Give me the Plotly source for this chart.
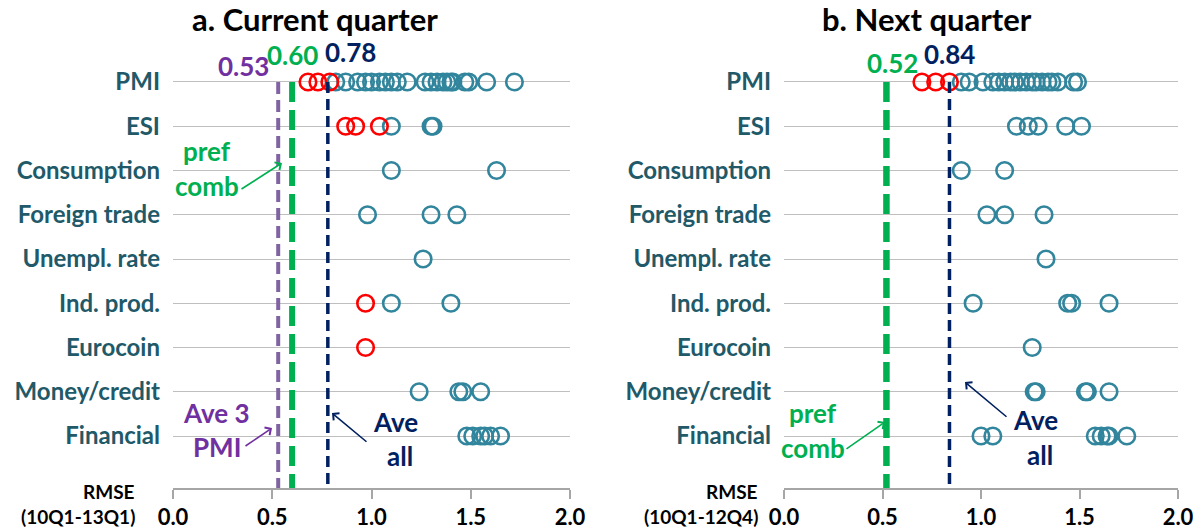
import plotly.graph_objects as go

W, H = 1204, 531
FONT = "Lato"

categories = ["PMI", "ESI", "Consumption", "Foreign trade", "Unempl. rate",
              "Ind. prod.", "Eurocoin", "Money/credit", "Financial"]
x_ticks = [0.0, 0.5, 1.0, 1.5, 2.0]

# Panel a: current quarter (RMSE per indicator, by category, top to bottom)
cq_teal = [
    [0.82, 0.87, 0.93, 0.97, 1.00, 1.04, 1.07, 1.10, 1.13, 1.18, 1.27, 1.30,
     1.33, 1.36, 1.38, 1.40, 1.41, 1.47, 1.49, 1.58, 1.72],
    [1.10, 1.30, 1.31],
    [1.10, 1.63],
    [0.98, 1.30, 1.43],
    [1.26],
    [1.10, 1.40],
    [],
    [1.24, 1.44, 1.46, 1.55],
    [1.48, 1.51, 1.55, 1.57, 1.60, 1.65],
]
cq_red = [
    [0.68, 0.73, 0.79],
    [0.87, 0.92, 1.04],
    [], [], [],
    [0.97],
    [0.97],
    [], [],
]
cq_ave3pmi = 0.53
cq_prefcomb = 0.60
cq_aveall = 0.78

# Panel b: next quarter
nq_teal = [
    [0.90, 0.94, 1.01, 1.06, 1.09, 1.12, 1.15, 1.17, 1.20, 1.23, 1.26, 1.28,
     1.31, 1.34, 1.36, 1.39, 1.47, 1.49],
    [1.18, 1.24, 1.29, 1.43, 1.51],
    [0.90, 1.12],
    [1.03, 1.12, 1.32],
    [1.33],
    [0.96, 1.44, 1.46, 1.65],
    [1.26],
    [1.27, 1.28, 1.53, 1.54, 1.65],
    [1.00, 1.06, 1.58, 1.61, 1.64, 1.65, 1.74],
]
nq_red = [
    [0.70, 0.77, 0.84],
    [], [], [], [], [], [], [], [],
]
nq_prefcomb = 0.52
nq_aveall = 0.84

TEAL = "#31859C"
RED = "#FF0000"
PURPLE_LINE = "#8064A2"
PURPLE_TXT = "#7030A0"
GREEN = "#00B050"
NAVY = "#002060"
LABEL = "#215968"

n = len(categories)
ypos = {c: n - 1 - i for i, c in enumerate(categories)}
Y_BOTTOM = -1.175
Y_TOP = 8.949

fig = go.Figure()


def add_points(series, color, xa, ya):
    xs, ys = [], []
    for cat, vals in zip(categories, series):
        for v in vals:
            xs.append(v)
            ys.append(ypos[cat])
    fig.add_trace(go.Scatter(
        x=xs, y=ys, mode="markers", xaxis=xa, yaxis=ya, showlegend=False,
        marker=dict(symbol="circle-open", size=16.5, color=color,
                    line=dict(width=2.6, color=color)),
        hoverinfo="x+y"))


def add_vline(v, color, width, dash, xa, ya):
    fig.add_trace(go.Scatter(
        x=[v, v], y=[ypos["PMI"], Y_BOTTOM], mode="lines", xaxis=xa, yaxis=ya,
        showlegend=False, line=dict(color=color, width=width, dash=dash),
        hoverinfo="skip"))


add_points(cq_teal, TEAL, "x", "y")
add_points(cq_red, RED, "x", "y")
add_points(nq_teal, TEAL, "x2", "y2")
add_points(nq_red, RED, "x2", "y2")

add_vline(cq_ave3pmi, PURPLE_LINE, 4, "12px,6px", "x", "y")
add_vline(cq_prefcomb, GREEN, 6, "20px,8px", "x", "y")
add_vline(cq_aveall, NAVY, 3.5, "11px,6px", "x", "y")
add_vline(nq_prefcomb, GREEN, 6.5, "20px,8px", "x2", "y2")
add_vline(nq_aveall, NAVY, 3.5, "11px,6px", "x2", "y2")


def P(px, py):
    return px / W, 1 - py / H


xaxis_common = dict(
    range=[0, 2], tickvals=x_ticks, ticktext=[f"{t:.1f}" for t in x_ticks],
    showgrid=False, zeroline=False, showline=True, linecolor="#A6A6A6",
    linewidth=1.5, ticks="outside", ticklen=9, tickcolor="#A6A6A6",
    tickwidth=1.5, ticklabelstandoff=0, automargin=False,
    tickfont=dict(family=FONT, size=22, color="black", weight="bold"),
)
yaxis_common = dict(
    range=[Y_BOTTOM, Y_TOP], tickvals=[ypos[c] for c in categories],
    ticktext=categories, showgrid=True, gridcolor="#BFBFBF", gridwidth=1.2,
    zeroline=False, showline=False, ticks="", ticklabelstandoff=12,
    automargin=False,
    tickfont=dict(family=FONT, size=24, color=LABEL, weight="bold"),
    domain=[1 - 488 / H, 1 - 40 / H],
)

fig.update_layout(
    width=W, height=H, margin=dict(l=0, r=0, t=0, b=0, autoexpand=False),
    paper_bgcolor="white", plot_bgcolor="white",
    xaxis=dict(domain=[173 / W, 570 / W], anchor="y", **xaxis_common),
    xaxis2=dict(domain=[784 / W, 1178 / W], anchor="y2", **xaxis_common),
    yaxis=dict(anchor="x", **yaxis_common),
    yaxis2=dict(anchor="x2", **yaxis_common),
)

annotations = []


def text(px, py, s, color, size, xanchor="center"):
    x, y = P(px, py)
    annotations.append(dict(
        x=x, y=y, xref="paper", yref="paper", text=s, showarrow=False,
        xanchor=xanchor, yanchor="middle",
        font=dict(family=FONT, size=size, color=color, weight="bold")))


def arrow(tx, ty, hx, hy, color):
    x, y = P(hx, hy)
    annotations.append(dict(
        x=x, y=y, xref="paper", yref="paper", ax=tx - hx, ay=ty - hy,
        axref="pixel", ayref="pixel", text="", showarrow=True,
        arrowhead=4, arrowsize=1.1, arrowwidth=1.6, arrowcolor=color,
        standoff=0, startstandoff=0))


# titles
text(315, 19, "a. Current quarter", "black", 31)
text(927, 19, "b. Next quarter", "black", 31)

# value labels
text(243, 66, f"{cq_ave3pmi:.2f}", PURPLE_TXT, 26)
text(292, 55, f"{cq_prefcomb:.2f}", GREEN, 26)
text(350, 52, f"{cq_aveall:.2f}", NAVY, 26)
text(892, 63, f"{nq_prefcomb:.2f}", GREEN, 26)
text(949, 54, f"{nq_aveall:.2f}", NAVY, 26)

# panel a notes
text(207, 151, "pref", GREEN, 26)
text(207, 186, "comb", GREEN, 26)
arrow(240, 190, 282, 163, GREEN)
text(217, 413, "Ave 3", PURPLE_TXT, 26)
text(217, 447, "PMI", PURPLE_TXT, 26)
arrow(244, 447, 272, 428, PURPLE_TXT)
text(395, 422, "Ave", NAVY, 26)
text(400, 456, "all", NAVY, 26)
arrow(368, 443, 332, 413, NAVY)

# panel b notes
text(813, 413, "pref", GREEN, 26)
text(813, 448, "comb", GREEN, 26)
arrow(845, 450, 885, 422, GREEN)
text(1035, 420, "Ave", NAVY, 26)
text(1040, 455, "all", NAVY, 26)
arrow(1008, 418, 965, 382, NAVY)

# RMSE labels
text(137, 491, "RMSE", "black", 19, xanchor="right")
text(137, 516, "(10Q1-13Q1)", "black", 19, xanchor="right")
text(760, 491, "RMSE", "black", 19, xanchor="right")
text(760, 516, "(10Q1-12Q4)", "black", 19, xanchor="right")

fig.update_layout(annotations=annotations)

fig.write_html(
    "out.html",
    config={"displayModeBar": False},
    post_script="document.body.style.margin='0';document.body.style.overflow='hidden';",
)
